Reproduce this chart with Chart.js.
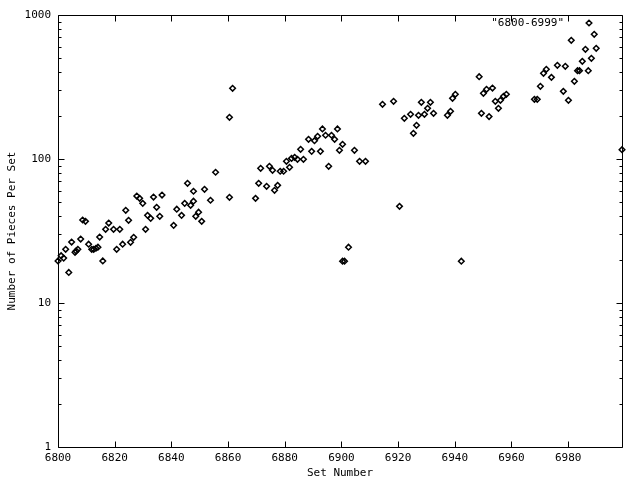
<!DOCTYPE html>
<html>
<head>
<meta charset="utf-8">
<script src="https://cdn.jsdelivr.net/npm/chart.js@4/dist/chart.umd.min.js"></script>
<style>
  html, body { margin: 0; padding: 0; background: #fff; }
  #chart { display: block; }
</style>
</head>
<body>
<canvas id="chart" width="640" height="480"></canvas>
<script>
// values
const setNumbers = [
    6800, 6801.1, 6802, 6802.7, 6803.8, 6804.8, 6806, 6806.4, 6807, 6808,
    6808.7, 6809.7, 6810.8, 6811.9, 6812.6, 6813.4, 6814.1, 6814.7, 6815.8, 6816.8,
    6817.9, 6819.6, 6820.7, 6821.8, 6822.8, 6823.9, 6824.9, 6825.6, 6826.7, 6827.8,
    6828.8, 6829.9, 6830.9, 6831.6, 6832.7, 6833.7, 6834.8, 6835.9, 6836.7, 6840.8,
    6841.9, 6843.6, 6844.7, 6845.7, 6846.8, 6847.8, 6847.8, 6848.6, 6849.6, 6850.7,
    6851.7, 6853.8, 6855.6, 6860.5, 6861.6, 6860.5, 6869.7, 6870.8, 6871.5, 6873.6,
    6874.6, 6875.7, 6876.4, 6877.5, 6878.4, 6879.6, 6880.6, 6881.7, 6882.4, 6883.5,
    6884.5, 6885.6, 6886.6, 6888.4, 6889.5, 6890.5, 6891.6, 6892.6, 6893.3, 6894.4,
    6895.5, 6896.5, 6897.6, 6898.6, 6899.3, 6900.4, 6900.4, 6901.1, 6902.5, 6904.6,
    6906.4, 6908.5, 6914.5, 6918.4, 6920.5, 6922.2, 6924.4, 6925.4, 6926.5, 6927.2,
    6928.2, 6929.3, 6930.4, 6931.4, 6932.5, 6937.4, 6938.5, 6939.2, 6940.2, 6942.3,
    6948.6, 6949.4, 6950.1, 6951.2, 6952.1, 6953.3, 6954.3, 6955.4, 6956.1, 6957.2,
    6958.2, 6968.1, 6969.1, 6970.2, 6971.3, 6972.3, 6974.1, 6976.2, 6978.3, 6979,
    6980.1, 6981.1, 6982.2, 6983.3, 6984, 6985, 6986.1, 6987.1, 6988.2, 6989.2,
    6989.9, 6999
];
const pieceCounts = [
    19.6, 21.3, 20.5, 23.6, 16.3, 26.5, 22.5, 23, 23.6, 27.8,
    37.7, 36.9, 25.6, 23.6, 23.6, 24, 24.4, 28.7, 19.6, 32.5,
    35.9, 32.5, 23.6, 32.5, 25.6, 44, 37.5, 26.4, 28.6, 55.3,
    53.3, 49.2, 32.5, 40.6, 38.7, 54.4, 46.2, 40, 56.2, 34.6,
    44.8, 40.6, 49.2, 67.8, 47.7, 50.9, 59.7, 40, 42.7, 36.9,
    61.6, 51.7, 80.9, 194.8, 309.7, 54.2, 53.3, 67.8, 86.2, 64.6,
    89, 83.5, 60.6, 65.6, 82.2, 82.2, 96.4, 87.6, 101, 102.8,
    99.5, 116.8, 99.5, 137, 113, 134, 143.8, 113, 161.6, 146.2,
    89, 146.2, 137, 161.6, 114.9, 126.5, 19.5, 19.5, 24.4, 114.9,
    96.4, 96.4, 239.8, 251.6, 46.9, 191.7, 204.3, 150.8, 171.4, 201,
    247.7, 204.3, 225, 247.7, 207.6, 201, 214.4, 264, 281.3, 19.5,
    372.8, 207.6, 286, 304.8, 197, 311, 251.6, 225, 255.7, 272.5,
    281.3, 259.9, 259.9, 319.8, 393.8, 419.7, 369, 447.5, 295, 440.4,
    255.7, 667, 346.5, 410.5, 410.5, 476.6, 577.7, 410.5, 500.3, 734.5,
    587.4, 116
];
const xTicks = [6800, 6820, 6840, 6860, 6880, 6900, 6920, 6940, 6960, 6980];
const yTicks = [1, 10, 100, 1000];
const seriesName = '"6800-6999"';

const monoFont = {family: '"DejaVu Sans Mono", "Liberation Mono", monospace', size: 11};

function crisp(v) {
    return Math.round(v) + 0.5;
}

// gnuplot-like border with inward ticks, mirrored on all four sides
const frame = {
    id: 'frame',
    beforeDatasetsDraw(chart) {
        const {ctx, chartArea: a, scales} = chart;
        const left = crisp(a.left), right = crisp(a.right);
        const top = crisp(a.top), bottom = crisp(a.bottom);
        ctx.save();
        ctx.strokeStyle = '#000';
        ctx.lineWidth = 1;
        ctx.beginPath();
        ctx.rect(left, top, right - left, bottom - top);

        xTicks.forEach((v) => {
            const px = crisp(scales.x.getPixelForValue(v));
            ctx.moveTo(px, bottom);
            ctx.lineTo(px, bottom - 6);
            ctx.moveTo(px, top);
            ctx.lineTo(px, top + 6);
        });

        yTicks.forEach((decade, i) => {
            const py = crisp(scales.y.getPixelForValue(decade));
            ctx.moveTo(left, py);
            ctx.lineTo(left + 6, py);
            ctx.moveTo(right, py);
            ctx.lineTo(right - 6, py);
            if (i === yTicks.length - 1) return;
            for (let m = 2; m <= 9; m++) {
                const my = crisp(scales.y.getPixelForValue(decade * m));
                ctx.moveTo(left, my);
                ctx.lineTo(left + 3, my);
                ctx.moveTo(right, my);
                ctx.lineTo(right - 3, my);
            }
        });
        ctx.stroke();

        // key, top right inside the plot
        const ky = a.top + 8;
        ctx.fillStyle = '#000';
        ctx.font = '11px ' + monoFont.family;
        ctx.textAlign = 'right';
        ctx.textBaseline = 'middle';
        ctx.fillText(seriesName, a.right - 58, ky);
        const kx = a.right - 33;
        ctx.lineWidth = 1.5;
        ctx.beginPath();
        ctx.moveTo(kx, ky - 2.8);
        ctx.lineTo(kx + 2.8, ky);
        ctx.lineTo(kx, ky + 2.8);
        ctx.lineTo(kx - 2.8, ky);
        ctx.closePath();
        ctx.stroke();
        ctx.restore();
    }
};

function initScatter() {
    const points = setNumbers.map((x, i) => ({x: x, y: pieceCounts[i]}));
    new Chart(document.getElementById('chart'), {
        type: 'scatter',
        data: {
            datasets: [{
                label: seriesName,
                data: points,
                pointStyle: 'rectRot',
                pointRadius: 2.8,
                pointHoverRadius: 2.8,
                borderColor: '#000',
                backgroundColor: 'rgba(0,0,0,0)',
                borderWidth: 1.5,
                clip: false
            }]
        },
        options: {
            responsive: false,
            animation: false,
            events: [],
            layout: {padding: {top: 15, right: 18, left: 0, bottom: 0}},
            plugins: {
                legend: {display: false},
                tooltip: {enabled: false}
            },
            scales: {
                x: {
                    type: 'linear',
                    min: 6800,
                    max: 6999,
                    grid: {display: false, drawTicks: false, tickLength: 0},
                    border: {display: false},
                    afterBuildTicks: (scale) => {
                        scale.ticks = xTicks.map((v) => ({value: v}));
                    },
                    afterFit: (scale) => {
                        scale.height = 33;
                    },
                    ticks: {
                        color: '#000',
                        font: monoFont,
                        padding: 5,
                        maxRotation: 0,
                        autoSkip: false,
                        callback: (v) => String(v)
                    },
                    title: {
                        display: true,
                        text: 'Set Number',
                        color: '#000',
                        font: monoFont,
                        padding: {top: 0, bottom: 0}
                    }
                },
                y: {
                    type: 'logarithmic',
                    min: 1,
                    max: 1000,
                    grid: {display: false, drawTicks: false, tickLength: 0},
                    border: {display: false},
                    afterBuildTicks: (scale) => {
                        scale.ticks = yTicks.map((v) => ({value: v}));
                    },
                    afterFit: (scale) => {
                        scale.width = 58;
                    },
                    ticks: {
                        color: '#000',
                        font: monoFont,
                        padding: 7,
                        autoSkip: false,
                        callback: (v) => String(v)
                    },
                    title: {
                        display: true,
                        text: 'Number of Pieces Per Set',
                        color: '#000',
                        font: monoFont,
                        padding: {top: 6, bottom: 0}
                    }
                }
            }
        },
        plugins: [frame]
    });
}

initScatter();
</script>
</body>
</html>
